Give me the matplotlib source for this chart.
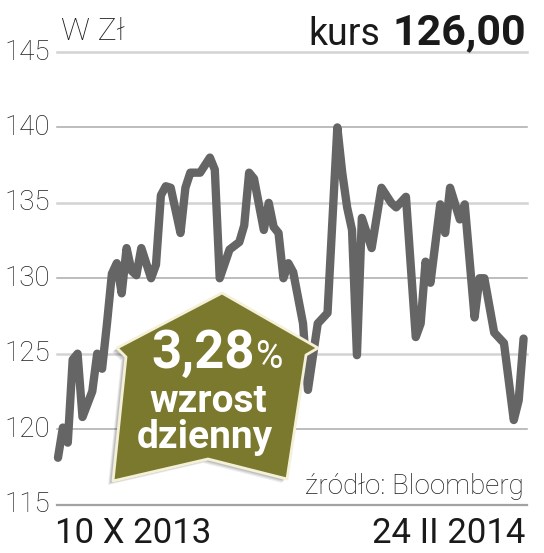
import numpy as np
import matplotlib
matplotlib.use("Agg")
import matplotlib.pyplot as plt
from matplotlib import transforms
from matplotlib.patches import Polygon

# sesje od 10 X 2013 do 24 II 2014 (numer sesji) i kurs w zl
sesja = [0, 1, 2, 3, 4, 5, 7, 8, 9, 10, 11, 12, 13, 14, 15, 16, 17, 19, 20, 21,
         22, 23, 24, 25, 26, 27, 28, 29, 31, 32, 33, 35, 37, 38, 39, 40, 42, 43, 44, 45,
         46, 47, 48, 50, 51, 53, 55, 57, 58, 59, 60, 61, 62, 64, 66, 68, 69, 71, 73, 74,
         75, 76, 78, 79, 80, 82, 83, 85, 86, 87, 89, 91, 93, 94, 95]
kurs = [118.1, 120.1, 119.1, 124.6, 125.0, 120.8, 122.5, 125.0, 124.0, 127.0,
        130.3, 131.0, 129.0, 132.0, 130.5, 130.2, 132.0, 130.0, 130.9, 135.5,
        136.1, 136.0, 134.5, 133.0, 136.0, 137.0, 137.0, 137.0, 138.0, 137.2,
        130.0, 131.9, 132.4, 133.5, 137.0, 136.6, 133.2, 135.0, 133.4, 133.0,
        130.0, 131.0, 130.4, 127.0, 122.6, 127.0, 127.7, 140.0, 137.0, 134.7,
        133.2, 124.9, 134.0, 132.0, 136.0, 135.0, 134.7, 135.4, 126.1, 127.0,
        131.1, 129.7, 134.9, 133.0, 136.0, 133.9, 134.9, 127.4, 130.0, 130.0,
        126.4, 125.7, 120.6, 121.9, 126.0]
yticks = [115, 120, 125, 130, 135, 140, 145]
ostatni = "126,00"
zmiana = "3,28"
daty = ["10 X 2013", "24 II 2014"]

W, H = 544, 553
fig = plt.figure(figsize=(W / 100, H / 100), dpi=100)
fig.patch.set_facecolor("white")

def px(x, y):
    # piksele obrazka -> wspolrzedne figury
    return x / W, 1 - y / H

ax = fig.add_axes([57 / W, (H - 504.5) / H, 470 / W, 452.5 / H])
ax.set_xlim(-0.2, 95.7)
ax.set_ylim(115, 145)
ax.axis("off")

FONT = "Roboto"
txt = "#1e1e1e"

# linie siatki - jasne i ciemniejsze na przemian
for v in yticks:
    if v == 115:
        c, lw = "#a3a3a3", 1.6
    elif v % 10 == 5:
        c, lw = "#d3d3d3", 1.8
    else:
        c, lw = "#ababab", 1.1
    ax.axhline(v, color=c, lw=lw, zorder=1, clip_on=False)

tr = transforms.blended_transform_factory(fig.transFigure, ax.transData)
for v in yticks:
    ax.text(4 / W, v, str(v), transform=tr, ha="left", va="center",
            fontsize=20, family=FONT, weight="light", color=txt)

ax.plot(sesja, kurs, color="#656565", lw=6, solid_joinstyle="round",
        solid_capstyle="round", zorder=3, clip_on=False)

# strzalka
pts = [(222, 293), (318, 348), (306, 355), (287, 479), (208, 459),
       (113, 481), (126, 357), (117, 348)]
for dx, dy, a in [(-5, 4, 0.07), (-4, 3, 0.09), (-3, 2, 0.11)]:
    sh = Polygon([px(x + dx, y + dy) for x, y in pts], closed=True,
                 transform=fig.transFigure, facecolor="#000000", alpha=a,
                 edgecolor="none", zorder=4)
    fig.add_artist(sh)
arrow = Polygon([px(x, y) for x, y in pts], closed=True, transform=fig.transFigure,
                facecolor="#7b792e", edgecolor="#f4f1d8", lw=2, joinstyle="round",
                zorder=5)
fig.add_artist(arrow)

x0, y0 = px(255, 368)
fig.text(x0, y0, zmiana, ha="right", va="baseline", fontsize=38, family=FONT,
         weight="bold", color="white", zorder=6)
fig.text(x0, y0, "%", ha="left", va="baseline", fontsize=27, family=FONT,
         weight="normal", color="white", zorder=6)
fig.text(*px(208, 412), "wzrost", ha="center", va="baseline", fontsize=28,
         family=FONT, weight="bold", color="white", zorder=6)
fig.text(*px(205, 448), "dzienny", ha="center", va="baseline", fontsize=28,
         family=FONT, weight="bold", color="white", zorder=6)

# napisy
fig.text(*px(61, 40), "W Zł", ha="left", va="baseline", fontsize=23, family=FONT,
         weight="light", color=txt)
fig.text(*px(526, 44), ostatni, ha="right", va="baseline", fontsize=31, family=FONT,
         weight="bold", color="#1a1a1a")
fig.text(*px(380, 45), "kurs", ha="right", va="baseline", fontsize=27, family=FONT,
         weight="normal", color="#1a1a1a")
fig.text(*px(524, 494), "źródło: Bloomberg", ha="right", va="baseline", fontsize=20,
         family=FONT, weight="light", color=txt)
fig.text(*px(55, 543), daty[0], ha="left", va="baseline", fontsize=25, family=FONT,
         color="#1a1a1a")
fig.text(*px(525, 543), daty[1], ha="right", va="baseline", fontsize=25, family=FONT,
         color="#1a1a1a")

fig.savefig("out.png", dpi=100, facecolor="white")
